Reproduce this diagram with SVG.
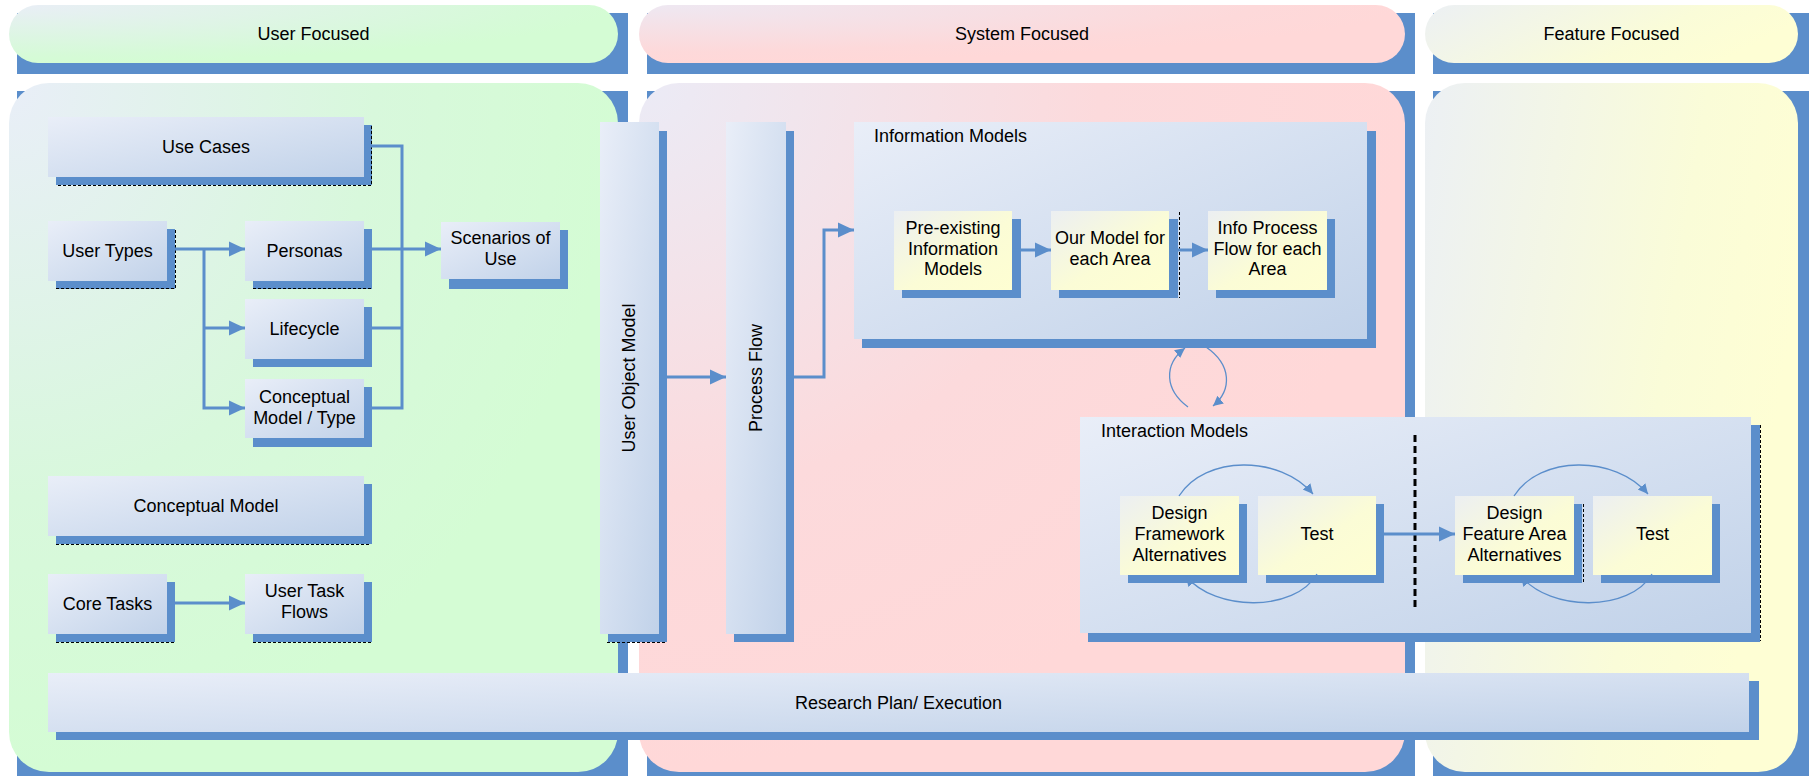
<svg xmlns="http://www.w3.org/2000/svg" width="1812" height="776" viewBox="0 0 1812 776">
<style>
.t{font-family:"Liberation Sans",Arial,sans-serif;font-size:18px;fill:#000}
.c{text-anchor:middle}
.sh{fill:#5b8ecb}
.nb{fill:url(#gBlue)}
.ny{fill:url(#gYel)}
.conn{fill:none;stroke:#5b8ecb;stroke-width:3}
.thin{fill:none;stroke:#5b8ecb;stroke-width:1.3}
.dash{fill:none;stroke:#000;stroke-width:1;stroke-dasharray:3 2}
</style>
<defs>
<linearGradient id="gBlue" x1="0" y1="0" x2="1" y2="1">
<stop offset="0" stop-color="#e9eef8"/><stop offset="1" stop-color="#c1d2e9"/>
</linearGradient>
<linearGradient id="gYel" x1="0" y1="0" x2="1" y2="1">
<stop offset="0" stop-color="#eceff2"/><stop offset="0.55" stop-color="#fbfcd6"/><stop offset="1" stop-color="#fefed2"/>
</linearGradient>
<radialGradient id="gGreenP" cx="0" cy="0" r="1" fx="0" fy="0">
<stop offset="0" stop-color="#e9eef8"/><stop offset="0.6" stop-color="#d8f8dc"/><stop offset="1" stop-color="#d4fcd4"/>
</radialGradient>
<radialGradient id="gGreenH" cx="0" cy="0" r="1" fx="0" fy="0">
<stop offset="0" stop-color="#e9eef6"/><stop offset="0.85" stop-color="#d6fad8"/><stop offset="1" stop-color="#d4fcd4"/>
</radialGradient>
<radialGradient id="gPinkP" cx="0" cy="0" r="1" fx="0" fy="0">
<stop offset="0" stop-color="#ebebf6"/><stop offset="0.6" stop-color="#fcdadc"/><stop offset="1" stop-color="#ffd8d8"/>
</radialGradient>
<radialGradient id="gPinkH" cx="0" cy="0" r="1" fx="0" fy="0">
<stop offset="0" stop-color="#eee8f2"/><stop offset="0.8" stop-color="#fdd9da"/><stop offset="1" stop-color="#ffd8d8"/>
</radialGradient>
<linearGradient id="gYelP" x1="0" y1="0" x2="1" y2="0.3">
<stop offset="0" stop-color="#ecf0f4"/><stop offset="0.7" stop-color="#fafcd8"/><stop offset="1" stop-color="#fefed4"/>
</linearGradient>
<marker id="ah" markerUnits="userSpaceOnUse" markerWidth="16" markerHeight="16" refX="16" refY="8" orient="auto">
<path d="M0,0.5 L16,8 L0,15.5z" fill="#5b8ecb"/>
</marker>
<marker id="ahs" markerUnits="userSpaceOnUse" markerWidth="11" markerHeight="11" refX="10" refY="5" orient="auto">
<path d="M0,0 L10,5 L0,10z" fill="#5b8ecb"/>
</marker>
</defs>

<g id="header-user">
<rect class="sh" x="17" y="13" width="611" height="61"/>
<rect x="9" y="5" width="609" height="58" rx="29" fill="url(#gGreenH)"/>
<text class="t c" x="313.5" y="40">User Focused</text>
</g>
<g id="header-system">
<rect class="sh" x="647" y="13" width="768" height="61"/>
<rect x="639" y="5" width="766" height="58" rx="29" fill="url(#gPinkH)"/>
<text class="t c" x="1022" y="40">System Focused</text>
</g>
<g id="header-feature">
<rect class="sh" x="1433" y="13" width="376" height="61"/>
<rect x="1425" y="5" width="373" height="58" rx="29" fill="url(#gYelP)"/>
<text class="t c" x="1611.5" y="40">Feature Focused</text>
</g>

<g id="panel-user">
<rect class="sh" x="17" y="91" width="611" height="685"/>
<rect x="9" y="83" width="609" height="689" rx="40" fill="url(#gGreenP)"/>
</g>
<g id="panel-system">
<rect class="sh" x="647" y="91" width="768" height="685"/>
<rect x="639" y="83" width="766" height="689" rx="40" fill="url(#gPinkP)"/>
</g>
<g id="panel-feature">
<rect class="sh" x="1433" y="91" width="376" height="685"/>
<rect x="1425" y="83" width="373" height="689" rx="40" fill="url(#gYelP)"/>
</g>

<g id="use-cases">
<rect class="sh" x="56" y="125" width="316" height="60"/>
<path class="dash" d="M371.5,126 V185.5 H56"/>
<rect class="nb" x="48" y="117" width="316" height="60"/>
<text class="t c" x="206" y="153">Use Cases</text>
</g>
<g id="user-types">
<rect class="sh" x="56" y="229" width="119" height="60"/>
<path class="dash" d="M175.5,230 V288.5 H56"/>
<rect class="nb" x="48" y="221" width="119" height="60"/>
<text class="t c" x="107.5" y="257">User Types</text>
</g>
<g id="personas">
<rect class="sh" x="253" y="229" width="119" height="60"/>
<path class="dash" d="M253,288.5 H371"/>
<rect class="nb" x="245" y="221" width="119" height="60"/>
<text class="t c" x="304.5" y="257">Personas</text>
</g>
<g id="scenarios-of-use">
<rect class="sh" x="449" y="230" width="119" height="59"/>
<rect class="nb" x="441" y="222" width="119" height="57"/>
<text class="t c" x="500.5" y="244">Scenarios of</text>
<text class="t c" x="500.5" y="265">Use</text>
</g>
<g id="lifecycle">
<rect class="sh" x="253" y="307" width="119" height="60"/>
<rect class="nb" x="245" y="299" width="119" height="60"/>
<text class="t c" x="304.5" y="335">Lifecycle</text>
</g>
<g id="conceptual-model-type">
<rect class="sh" x="253" y="387" width="119" height="60"/>
<rect class="nb" x="245" y="379" width="119" height="59"/>
<text class="t c" x="304.5" y="403">Conceptual</text>
<text class="t c" x="304.5" y="424">Model / Type</text>
</g>
<g id="conceptual-model">
<rect class="sh" x="56" y="484" width="316" height="60"/>
<path class="dash" d="M56,544.5 H371"/>
<rect class="nb" x="48" y="476" width="316" height="60"/>
<text class="t c" x="206" y="512">Conceptual Model</text>
</g>
<g id="core-tasks">
<rect class="sh" x="56" y="582" width="119" height="60"/>
<path class="dash" d="M56,642.5 H175"/>
<rect class="nb" x="48" y="574" width="119" height="60"/>
<text class="t c" x="107.5" y="610">Core Tasks</text>
</g>
<g id="user-task-flows">
<rect class="sh" x="253" y="582" width="119" height="60"/>
<path class="dash" d="M253,642.5 H371"/>
<rect class="nb" x="245" y="574" width="119" height="60"/>
<text class="t c" x="304.5" y="597">User Task</text>
<text class="t c" x="304.5" y="618">Flows</text>
</g>
<g id="user-object-model">
<rect class="sh" x="608" y="131" width="59" height="511"/>
<path class="dash" d="M607,642.5 H666"/>
<rect class="nb" x="600" y="122" width="59" height="512"/>
<text class="t c" transform="translate(628.5,378) rotate(-90)" dominant-baseline="central">User Object Model</text>
</g>
<g id="process-flow">
<rect class="sh" x="734" y="131" width="60" height="511"/>
<rect class="nb" x="726" y="122" width="60" height="512"/>
<text class="t c" transform="translate(755.5,378) rotate(-90)" dominant-baseline="central">Process Flow</text>
</g>

<g id="information-models">
<rect class="sh" x="862" y="131" width="514" height="217"/>
<rect class="nb" x="854" y="122" width="513" height="217"/>
<text class="t" x="874" y="142">Information Models</text>
</g>
<g id="pre-existing-information-models">
<rect class="sh" x="902" y="219" width="119" height="79"/>
<rect class="ny" x="894" y="211" width="118" height="79"/>
<text class="t c" x="953" y="234">Pre-existing</text>
<text class="t c" x="953" y="255">Information</text>
<text class="t c" x="953" y="275">Models</text>
</g>
<g id="our-model-for-each-area">
<rect class="sh" x="1059" y="219" width="119" height="79"/>
<path class="dash" d="M1179.5,212 V298"/>
<rect class="ny" x="1051" y="211" width="118" height="79"/>
<text class="t c" x="1110" y="244">Our Model for</text>
<text class="t c" x="1110" y="265">each Area</text>
</g>
<g id="info-process-flow">
<rect class="sh" x="1216" y="219" width="119" height="79"/>
<rect class="ny" x="1208" y="211" width="119" height="79"/>
<text class="t c" x="1267.5" y="234">Info Process</text>
<text class="t c" x="1267.5" y="255">Flow for each</text>
<text class="t c" x="1267.5" y="275">Area</text>
</g>

<g id="interaction-models">
<rect class="sh" x="1088" y="425" width="672" height="217"/>
<path class="dash" d="M1760.5,425 V641"/>
<rect class="nb" x="1080" y="417" width="671" height="216"/>
<text class="t" x="1101" y="437">Interaction Models</text>
<line x1="1415" y1="435" x2="1415" y2="610" stroke="#000" stroke-width="3" stroke-dasharray="7 4"/>
</g>
<g id="design-framework-alternatives">
<rect class="sh" x="1128" y="504" width="119" height="79"/>
<rect class="ny" x="1120" y="496" width="119" height="79"/>
<text class="t c" x="1179.5" y="519">Design</text>
<text class="t c" x="1179.5" y="540">Framework</text>
<text class="t c" x="1179.5" y="561">Alternatives</text>
</g>
<g id="test-1">
<rect class="sh" x="1266" y="504" width="118" height="79"/>
<rect class="ny" x="1258" y="496" width="118" height="79"/>
<text class="t c" x="1317" y="540">Test</text>
</g>
<g id="design-feature-area-alternatives">
<rect class="sh" x="1463" y="504" width="119" height="79"/>
<path class="dash" d="M1583.5,504 V583"/>
<rect class="ny" x="1455" y="496" width="119" height="79"/>
<text class="t c" x="1514.5" y="519">Design</text>
<text class="t c" x="1514.5" y="540">Feature Area</text>
<text class="t c" x="1514.5" y="561">Alternatives</text>
</g>
<g id="test-2">
<rect class="sh" x="1601" y="504" width="119" height="79"/>
<rect class="ny" x="1593" y="496" width="119" height="79"/>
<text class="t c" x="1652.5" y="540">Test</text>
</g>

<g id="research-plan-execution">
<rect class="sh" x="56" y="681" width="1703" height="59"/>
<rect class="nb" x="48" y="673" width="1701" height="59"/>
<text class="t c" x="898.5" y="709">Research Plan/ Execution</text>
</g>

<g id="connectors">
<path class="conn" d="M167,249 H245" marker-end="url(#ah)"/>
<path class="conn" d="M204,249 V408 H245" marker-end="url(#ah)"/>
<path class="conn" d="M204,328 H245" marker-end="url(#ah)"/>
<path class="conn" d="M364,146 H402 V408 H364"/>
<path class="conn" d="M364,328 H402"/>
<path class="conn" d="M364,249 H441" marker-end="url(#ah)"/>
<path class="conn" d="M167,603 H245" marker-end="url(#ah)"/>
<path class="conn" d="M659,377 H726" marker-end="url(#ah)"/>
<path class="conn" d="M786,377 H824 V230 H854" marker-end="url(#ah)"/>
<path class="conn" d="M1012,250 H1051" marker-end="url(#ah)"/>
<path class="conn" d="M1169,250 H1208" marker-end="url(#ah)"/>
<path class="conn" d="M1376,534 H1455" marker-end="url(#ah)"/>
<path class="thin" d="M1188,407 C1165,390 1163,365 1185,348" marker-end="url(#ahs)"/>
<path class="thin" d="M1206,347 C1232,365 1232,390 1213,406" marker-end="url(#ahs)"/>
<path class="thin" d="M1179,496 C1205,455 1280,455 1313,494" marker-end="url(#ahs)"/>
<path class="thin" d="M1317,574 C1295,612 1215,612 1186,576" marker-end="url(#ahs)"/>
<path class="thin" d="M1514,496 C1540,455 1615,455 1648,494" marker-end="url(#ahs)"/>
<path class="thin" d="M1652,574 C1630,612 1550,612 1521,576" marker-end="url(#ahs)"/>
</g>
</svg>
